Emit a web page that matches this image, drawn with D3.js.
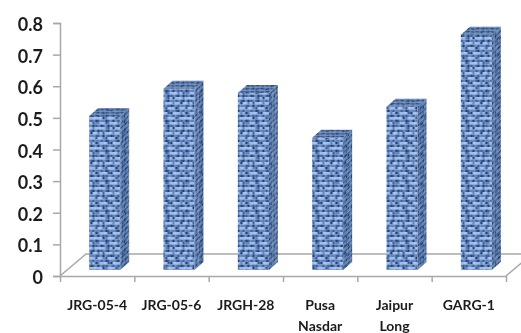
<!DOCTYPE html>
<html>
<head>
<meta charset="utf-8">
<script src="https://cdn.jsdelivr.net/npm/d3@7"></script>
<style>
html, body { margin: 0; padding: 0; background: #fff; overflow: hidden; }
svg { display: block; }
text { font-family: Lato, "Open Sans", sans-serif; fill: #1a1a1a; }
</style>
</head>
<body>
<script>
const categories = ['JRG-05-4', 'JRG-05-6', 'JRGH-28', 'Pusa Nasdar', 'Jaipur Long', 'GARG-1'];
const values = [0.487, 0.573, 0.56, 0.418, 0.516, 0.744];
const yTicks = [0, 0.1, 0.2, 0.3, 0.4, 0.5, 0.6, 0.7, 0.8];

// texture tile, one char per cell: L light, m mid, d dark, x darkest
const textureRows = [
    'LLmdLLLxmLLd',
    'mdmxdmmdxmdm',
    'mLLLdxLLLmLx',
    'xmddmmdmdxdm',
    'LLxmLLLdmLLL',
    'dmmxdmxmddmx',
    'mLLdmLLLmLdm',
    'mxdmxdmdxmxd',
    'LLLmdLxLLLmL',
    'xdmdxmmdmdxm',
    'mLdLLLmLLxLL',
    'dmxmdxdmdmmd'
];

const svgWidth = 521;
const svgHeight = 333;
const margin = {top: 23, right: 15, bottom: 57, left: 60};
const chartWidth = svgWidth - margin.left - margin.right;
const chartHeight = svgHeight - margin.top - margin.bottom;

// fake 3d: how far the floor goes back, where the bars stand on it, and how deep they are
const floorDepth = {x: 26, y: 22};
const barShift = {x: 7.5, y: 6};
const barDepth = {x: 9, y: 8};

const axisColor = '#a8a8a8';

const svg = d3.select('body').append('svg')
    .attr('width', svgWidth)
    .attr('height', svgHeight);

const defs = svg.append('defs');

const soften = defs.append('filter').attr('id', 'soften')
    .attr('x', '-5%').attr('y', '-5%').attr('width', '110%').attr('height', '110%');
soften.append('feGaussianBlur').attr('stdDeviation', 0.7);

const softenText = defs.append('filter').attr('id', 'softenText');
softenText.append('feGaussianBlur').attr('stdDeviation', 0.35);

function addTexture(id, colors, cellW, cellH, transform) {
    const w = textureRows[0].length * cellW;
    const h = textureRows.length * cellH;
    const p = defs.append('pattern')
        .attr('id', id)
        .attr('patternUnits', 'userSpaceOnUse')
        .attr('width', w)
        .attr('height', h);
    if (transform) p.attr('patternTransform', transform);
    textureRows.forEach((row, r) => {
        row.split('').forEach((ch, c) => {
            p.append('rect')
                .attr('x', c * cellW).attr('y', r * cellH)
                .attr('width', cellW).attr('height', cellH)
                .attr('fill', colors[ch]);
        });
    });
}
addTexture('texFront', {L: '#9dbdec', m: '#5f84bf', d: '#3d619c', x: '#24437a'}, 2.5, 2.5);
addTexture('texSide', {L: '#5d7fb5', m: '#41649b', d: '#2e4f85', x: '#1f3c6c'}, 1.6, 2.5, 'skewY(-42)');
addTexture('texTop', {L: '#5577ac', m: '#44679e', d: '#38598f', x: '#2c4a7c'}, 2.5, 1.5);

const g = svg.append('g')
    .attr('transform', `translate(${margin.left}, ${margin.top})`);

const y = d3.scaleLinear().domain([0, 0.8]).range([chartHeight, 0]);
const x = d3.scaleBand().domain(categories).range([0, chartWidth]).paddingInner(0.583).paddingOuter(0.2915);
const xEdges = d3.scaleLinear().domain([0, categories.length]).range([0, chartWidth]);

// floor
const gFloor = g.append('g').attr('filter', 'url(#soften)');
gFloor.append('path')
    .attr('d', `M0,${chartHeight}L${floorDepth.x},${chartHeight - floorDepth.y}H${chartWidth + floorDepth.x}L${chartWidth},${chartHeight}`)
    .attr('fill', 'none')
    .attr('stroke', axisColor)
    .attr('stroke-width', 1.5);

// axes
const gY = g.append('g')
    .call(d3.axisLeft(y).tickValues(yTicks).tickSizeInner(7).tickSizeOuter(7).tickPadding(10)
        .tickFormat(d => d === 0 ? '0' : d3.format('.1f')(d)));
gY.selectAll('text')
    .attr('dy', '0.42em')
    .style('font-size', '18px')
    .style('font-weight', 700)
    .attr('filter', 'url(#softenText)');

const gXTicks = g.append('g')
    .attr('transform', `translate(0, ${chartHeight})`)
    .call(d3.axisBottom(xEdges).ticks(categories.length).tickSize(6).tickSizeOuter(0).tickFormat(''));

const gX = g.append('g')
    .attr('transform', `translate(0, ${chartHeight})`)
    .call(d3.axisBottom(x).tickSize(0).tickPadding(24));
gX.select('.domain').remove();
gX.selectAll('text')
    .style('font-size', '14px')
    .style('font-weight', 700)
    .attr('filter', 'url(#softenText)')
    .each(function (d) {
        const words = d.split(' ');
        const t = d3.select(this).text(null);
        words.forEach((w, i) => {
            t.append('tspan')
                .attr('x', 0)
                .attr('dy', i === 0 ? '0.71em' : '21.5px')
                .text(w);
        });
    });

[gY, gXTicks].forEach(a => {
    a.selectAll('.domain, line')
        .attr('stroke', axisColor)
        .attr('stroke-width', 1.5);
});

// bars
const gBars = g.append('g').attr('filter', 'url(#soften)');
const bars = gBars.selectAll(null)
    .data(categories.map((c, i) => ({c, v: values[i]})))
    .join('g')
    .attr('transform', `translate(${barShift.x}, ${-barShift.y})`);

bars.append('rect')
    .attr('x', d => x(d.c))
    .attr('y', d => y(d.v))
    .attr('width', x.bandwidth())
    .attr('height', d => chartHeight - y(d.v))
    .attr('fill', 'url(#texFront)');

bars.append('path')
    .attr('d', d => {
        const r = x(d.c) + x.bandwidth();
        return `M${r},${y(d.v)}l${barDepth.x},${-barDepth.y}V${chartHeight - barDepth.y}l${-barDepth.x},${barDepth.y}Z`;
    })
    .attr('fill', 'url(#texSide)');

bars.append('path')
    .attr('d', d => `M${x(d.c)},${y(d.v)}l${barDepth.x},${-barDepth.y}h${x.bandwidth()}l${-barDepth.x},${barDepth.y}Z`)
    .attr('fill', 'url(#texTop)');
</script>
</body>
</html>
